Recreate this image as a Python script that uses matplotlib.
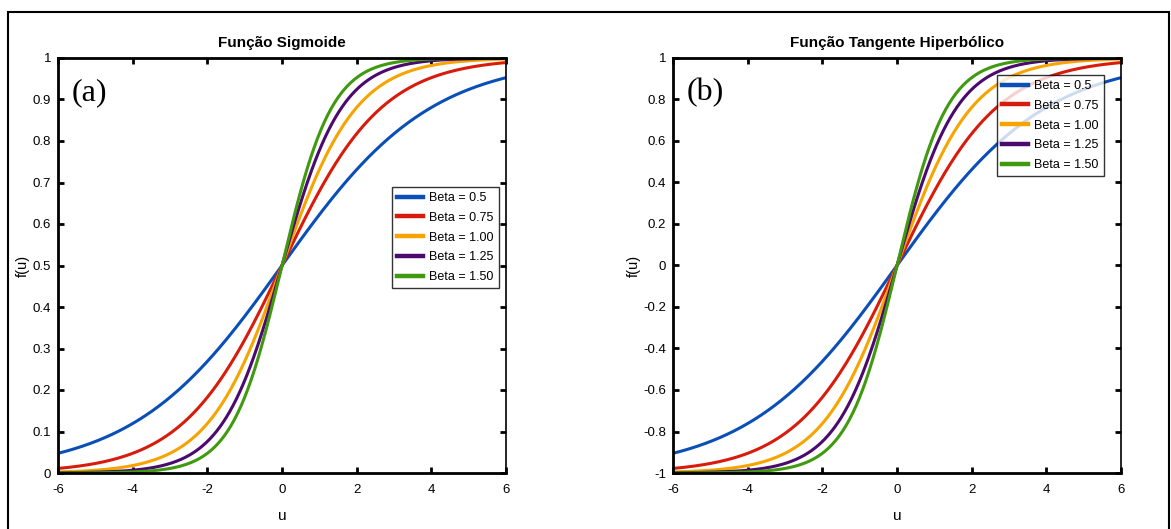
import matplotlib
matplotlib.use('Agg')
import matplotlib.pyplot as plt
import numpy as np
from matplotlib.patches import Rectangle

betas = [0.5, 0.75, 1.00, 1.25, 1.50]
beta_labels = ['Beta = 0.5', 'Beta = 0.75', 'Beta = 1.00', 'Beta = 1.25', 'Beta = 1.50']
colors = ['#0a4fb8', '#d81c0c', '#f7a400', '#4a0a6e', '#3f9a10']

x_ticks = [-6, -4, -2, 0, 2, 4, 6]
sig_ticks = [0, 0.1, 0.2, 0.3, 0.4, 0.5, 0.6, 0.7, 0.8, 0.9, 1]
sig_labels = ['0', '0.1', '0.2', '0.3', '0.4', '0.5', '0.6', '0.7', '0.8', '0.9', '1']
tanh_ticks = [-1, -0.8, -0.6, -0.4, -0.2, 0, 0.2, 0.4, 0.6, 0.8, 1]
tanh_labels = ['-1', '-0.8', '-0.6', '-0.4', '-0.2', '0', '0.2', '0.4', '0.6', '0.8', '1']

u = np.linspace(-6, 6, 400)

plt.rcParams['font.family'] = ['Liberation Sans', 'DejaVu Sans']
plt.rcParams['font.size'] = 9

fig = plt.figure(figsize=(11.71, 5.29), dpi=100)
W, H = 1171, 529

# moldura externa
fig.patches.append(Rectangle((8 / W, -0.01), (1169 - 8) / W, 1 - 12 / H + 0.01,
                             transform=fig.transFigure, fill=False,
                             edgecolor='k', linewidth=1.5))

ax1 = fig.add_axes([58 / W, 1 - 473 / H, 448 / W, 415 / H])
ax2 = fig.add_axes([673 / W, 1 - 473 / H, 448 / W, 415 / H])


def style(ax, yt, yl, lim):
    ax.set_xlim(-6, 6)
    ax.set_ylim(*lim)
    ax.set_xticks(x_ticks)
    ax.set_xticklabels([str(t) for t in x_ticks])
    ax.set_yticks(yt)
    ax.set_yticklabels(yl)
    ax.tick_params(direction='in', top=True, right=True, length=4, width=2,
                   labelsize=9.5)
    ax.tick_params(axis='x', pad=8)
    ax.tick_params(axis='y', pad=5)
    for s in ['left', 'bottom', 'top']:
        ax.spines[s].set_linewidth(2)
    ax.spines['right'].set_linewidth(1.2)
    ax.set_xlabel('u', fontsize=11, labelpad=9)
    ax.set_ylabel('f(u)', fontsize=10.5, labelpad=2)


def legend(ax, anchor):
    leg = ax.legend(loc='upper right', bbox_to_anchor=anchor, fontsize=9,
                    frameon=True, fancybox=False, edgecolor='k', handlelength=2.1,
                    borderpad=0.4, labelspacing=0.62, handletextpad=0.5,
                    borderaxespad=0)
    leg.get_frame().set_linewidth(1)
    for line in leg.get_lines():
        line.set_linewidth(3.2)


# funcao sigmoide
for b, lab, c in zip(betas, beta_labels, colors):
    ax1.plot(u, 1 / (1 + np.exp(-b * u)), color=c, lw=2.2, label=lab)
style(ax1, sig_ticks, sig_labels, (0, 1))
ax1.set_title('Função Sigmoide', fontsize=11, fontweight='bold', pad=8)
ax1.text(0.031, 0.916, '(a)', transform=ax1.transAxes, fontsize=23,
         family='Liberation Serif', va='center')
legend(ax1, (0.984, 0.689))

# funcao tangente hiperbolica
for b, lab, c in zip(betas, beta_labels, colors):
    ax2.plot(u, (1 - np.exp(-b * u)) / (1 + np.exp(-b * u)), color=c, lw=2.2, label=lab)
style(ax2, tanh_ticks, tanh_labels, (-1, 1))
ax2.set_title('Função Tangente Hiperbólico', fontsize=11, fontweight='bold', pad=8)
ax2.text(0.031, 0.916, '(b)', transform=ax2.transAxes, fontsize=23,
         family='Liberation Serif', va='center')
legend(ax2, (0.962, 0.959))

fig.savefig('out.png', dpi=100, facecolor='white')
